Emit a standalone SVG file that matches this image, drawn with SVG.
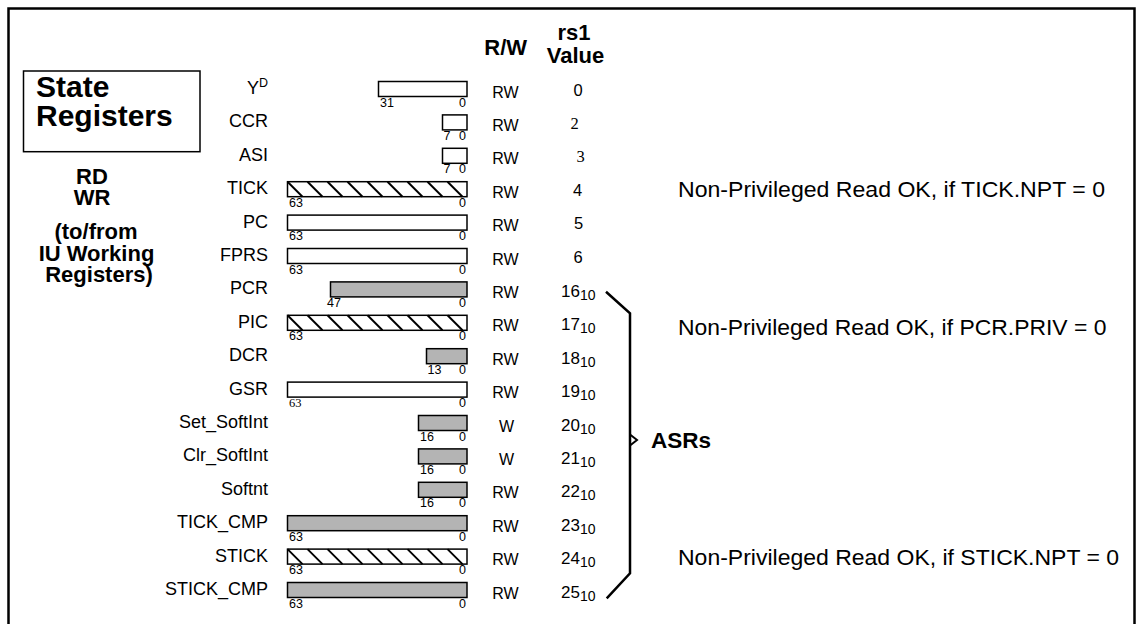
<svg xmlns="http://www.w3.org/2000/svg" xmlns:xlink="http://www.w3.org/1999/xlink" width="1143" height="624" viewBox="0 0 1143 624">
<style>
text{font-family:"Liberation Sans",Arial,sans-serif;fill:#000}
.bar{stroke:#000;stroke-width:1.5;fill:#fff}
.gray{fill:#b4b4b4}
.name{font-size:18px;text-anchor:end}
.rw{font-size:16px;text-anchor:middle}
.val{font-size:16.5px;text-anchor:middle}
.sv{font-size:17px}
.sub{font-size:14px}
.bit{font-size:12.5px}
.bitr{font-size:12.5px;text-anchor:end}
.serif{font-family:"Liberation Serif","Times New Roman",serif}
.hd{font-size:22px;font-weight:bold;text-anchor:middle}
.note{font-size:21.5px}
.hl{stroke:#000;stroke-width:2}
</style>
<defs>
<g id="hatch">
<line class="hl" x1="287.5" y1="0" x2="302.5" y2="15"/>
<line class="hl" x1="307.5" y1="0" x2="322.5" y2="15"/>
<line class="hl" x1="327.5" y1="0" x2="342.5" y2="15"/>
<line class="hl" x1="347.5" y1="0" x2="362.5" y2="15"/>
<line class="hl" x1="367.5" y1="0" x2="382.5" y2="15"/>
<line class="hl" x1="387.5" y1="0" x2="402.5" y2="15"/>
<line class="hl" x1="407.5" y1="0" x2="422.5" y2="15"/>
<line class="hl" x1="427.5" y1="0" x2="442.5" y2="15"/>
<line class="hl" x1="447.5" y1="0" x2="462.5" y2="15"/>
</g>
</defs>
<rect x="0" y="0" width="1143" height="624" fill="#fff"/>
<rect x="8.5" y="8.5" width="1126" height="640" fill="none" stroke="#000" stroke-width="2.5"/>

<g id="title">
<rect x="23.5" y="71" width="176.5" height="80.7" fill="none" stroke="#000" stroke-width="1.5"/>
<text x="36" y="96.5" font-size="30" font-weight="bold">State</text>
<text x="36" y="125.5" font-size="30" font-weight="bold">Registers</text>
</g>
<g id="rdwr">
<text class="hd" x="92" y="183.5">RD</text>
<text class="hd" x="92" y="205">WR</text>
<text class="hd" x="96" y="239">(to/from</text>
<text class="hd" x="96.5" y="261">IU Working</text>
<text class="hd" x="99" y="281.5">Registers)</text>
</g>
<g id="headers">
<text class="hd" x="505.7" y="54.5">R/W</text>
<text class="hd" x="574" y="39.5">rs1</text>
<text class="hd" x="575.5" y="63.3">Value</text>
</g>

<g id="reg-Y">
<text class="name" x="268" y="94">Y<tspan font-size="12.5" dy="-7">D</tspan></text>
<rect class="bar" x="378.5" y="81.5" width="88.5" height="15"/>
<text class="bit" x="380" y="106.5">31</text><text class="bitr" x="466" y="106.5">0</text>
<text class="rw" x="505.5" y="97.5">RW</text>
<text class="val" x="578" y="95.5">0</text>
</g>
<g id="reg-CCR">
<text class="name" x="268" y="127.4">CCR</text>
<rect class="bar" x="442.5" y="114.9" width="24.5" height="15"/>
<text class="bit" x="443.5" y="139.9">7</text><text class="bitr" x="466" y="139.9">0</text>
<text class="rw" x="505.5" y="130.9">RW</text>
<text class="val serif" x="574.5" y="128.5">2</text>
</g>
<g id="reg-ASI">
<text class="name" x="268" y="160.8">ASI</text>
<rect class="bar" x="442.5" y="148.3" width="24.5" height="15"/>
<text class="bit" x="443.5" y="173.3">7</text><text class="bitr" x="466" y="173.3">0</text>
<text class="rw" x="505.5" y="164.3">RW</text>
<text class="val serif" x="580.5" y="162.3">3</text>
</g>
<g id="reg-TICK">
<text class="name" x="268" y="194.2">TICK</text>
<rect class="bar" x="287.5" y="181.7" width="179.5" height="15"/>
<use xlink:href="#hatch" href="#hatch" y="181.7"/>
<text class="bit" x="289" y="206.7">63</text><text class="bitr" x="466" y="206.7">0</text>
<text class="rw" x="505.5" y="197.7">RW</text>
<text class="val" x="577.7" y="195.5">4</text>
</g>
<g id="reg-PC">
<text class="name" x="268" y="227.6">PC</text>
<rect class="bar" x="287.5" y="215.1" width="179.5" height="15"/>
<text class="bit" x="289" y="240.1">63</text><text class="bitr" x="466" y="240.1">0</text>
<text class="rw" x="505.5" y="231.1">RW</text>
<text class="val" x="578.5" y="229">5</text>
</g>
<g id="reg-FPRS">
<text class="name" x="268" y="261">FPRS</text>
<rect class="bar" x="287.5" y="248.5" width="179.5" height="15"/>
<text class="bit" x="289" y="273.5">63</text><text class="bitr" x="466" y="273.5">0</text>
<text class="rw" x="505.5" y="264.5">RW</text>
<text class="val" x="578" y="262.5">6</text>
</g>
<g id="reg-PCR">
<text class="name" x="268" y="294.4">PCR</text>
<rect class="bar gray" x="330.5" y="281.9" width="136.5" height="15"/>
<text class="bit" x="327" y="306.9">47</text><text class="bitr" x="466" y="306.9">0</text>
<text class="rw" x="505.5" y="297.9">RW</text>
<text class="sv" x="561" y="296.9">16<tspan class="sub" dy="3">10</tspan></text>
</g>
<g id="reg-PIC">
<text class="name" x="268" y="327.8">PIC</text>
<rect class="bar" x="287.5" y="315.3" width="179.5" height="15"/>
<use xlink:href="#hatch" href="#hatch" y="315.3"/>
<text class="bit" x="289" y="340.3">63</text><text class="bitr" x="466" y="340.3">0</text>
<text class="rw" x="505.5" y="331.3">RW</text>
<text class="sv" x="561" y="330.3">17<tspan class="sub" dy="3">10</tspan></text>
</g>
<g id="reg-DCR">
<text class="name" x="268" y="361.2">DCR</text>
<rect class="bar gray" x="426.5" y="348.7" width="40.5" height="15"/>
<text class="bit" x="427.5" y="373.7">13</text><text class="bitr" x="466" y="373.7">0</text>
<text class="rw" x="505.5" y="364.7">RW</text>
<text class="sv" x="561" y="363.7">18<tspan class="sub" dy="3">10</tspan></text>
</g>
<g id="reg-GSR">
<text class="name" x="268" y="394.6">GSR</text>
<rect class="bar" x="287.5" y="382.1" width="179.5" height="15"/>
<text class="bit serif" x="289" y="407.1">63</text><text class="bitr" x="466" y="407.1">0</text>
<text class="rw" x="505.5" y="398.1">RW</text>
<text class="sv" x="561" y="397.1">19<tspan class="sub" dy="3">10</tspan></text>
</g>
<g id="reg-Set_SoftInt">
<text class="name" x="268" y="428">Set_SoftInt</text>
<rect class="bar gray" x="418.5" y="415.5" width="48.5" height="15"/>
<text class="bit" x="420" y="440.5">16</text><text class="bitr" x="466" y="440.5">0</text>
<text class="rw" x="506.5" y="431.5">W</text>
<text class="sv" x="561" y="430.5">20<tspan class="sub" dy="3">10</tspan></text>
</g>
<g id="reg-Clr_SoftInt">
<text class="name" x="268" y="461.4">Clr_SoftInt</text>
<rect class="bar gray" x="418.5" y="448.9" width="48.5" height="15"/>
<text class="bit" x="420" y="473.9">16</text><text class="bitr" x="466" y="473.9">0</text>
<text class="rw" x="506.5" y="464.9">W</text>
<text class="sv" x="561" y="463.9">21<tspan class="sub" dy="3">10</tspan></text>
</g>
<g id="reg-Softnt">
<text class="name" x="268" y="494.8">Softnt</text>
<rect class="bar gray" x="418.5" y="482.3" width="48.5" height="15"/>
<text class="bit" x="420" y="507.3">16</text><text class="bitr" x="466" y="507.3">0</text>
<text class="rw" x="505.5" y="498.3">RW</text>
<text class="sv" x="561" y="497.3">22<tspan class="sub" dy="3">10</tspan></text>
</g>
<g id="reg-TICK_CMP">
<text class="name" x="268" y="528.2">TICK_CMP</text>
<rect class="bar gray" x="287.5" y="515.7" width="179.5" height="15"/>
<text class="bit" x="289" y="540.7">63</text><text class="bitr" x="466" y="540.7">0</text>
<text class="rw" x="505.5" y="531.7">RW</text>
<text class="sv" x="561" y="530.7">23<tspan class="sub" dy="3">10</tspan></text>
</g>
<g id="reg-STICK">
<text class="name" x="268" y="561.6">STICK</text>
<rect class="bar" x="287.5" y="549.1" width="179.5" height="15"/>
<use xlink:href="#hatch" href="#hatch" y="549.1"/>
<text class="bit" x="289" y="574.1">63</text><text class="bitr" x="466" y="574.1">0</text>
<text class="rw" x="505.5" y="565.1">RW</text>
<text class="sv" x="561" y="564.1">24<tspan class="sub" dy="3">10</tspan></text>
</g>
<g id="reg-STICK_CMP">
<text class="name" x="268" y="595">STICK_CMP</text>
<rect class="bar gray" x="287.5" y="582.5" width="179.5" height="15"/>
<text class="bit" x="289" y="607.5">63</text><text class="bitr" x="466" y="607.5">0</text>
<text class="rw" x="505.5" y="598.5">RW</text>
<text class="sv" x="561" y="597.5">25<tspan class="sub" dy="3">10</tspan></text>
</g>

<g id="connectors">
<polyline points="606,291.7 630,313.3 630,573.3 606.7,598.3" fill="none" stroke="#000" stroke-width="2.5"/>
<polyline points="630,434.5 637,440 630,445.5" fill="none" stroke="#000" stroke-width="2"/>
</g>
<g id="asrs">
<text x="651" y="448" font-size="22.5" font-weight="bold">ASRs</text>
</g>
<g id="notes">
<text class="note" x="678" y="197.3" textLength="427" lengthAdjust="spacingAndGlyphs">Non-Privileged Read OK, if TICK.NPT = 0</text>
<text class="note" x="678" y="335" textLength="428.5" lengthAdjust="spacingAndGlyphs">Non-Privileged Read OK, if PCR.PRIV = 0</text>
<text class="note" x="678" y="565" textLength="441" lengthAdjust="spacingAndGlyphs">Non-Privileged Read OK, if STICK.NPT = 0</text>
</g>
</svg>
